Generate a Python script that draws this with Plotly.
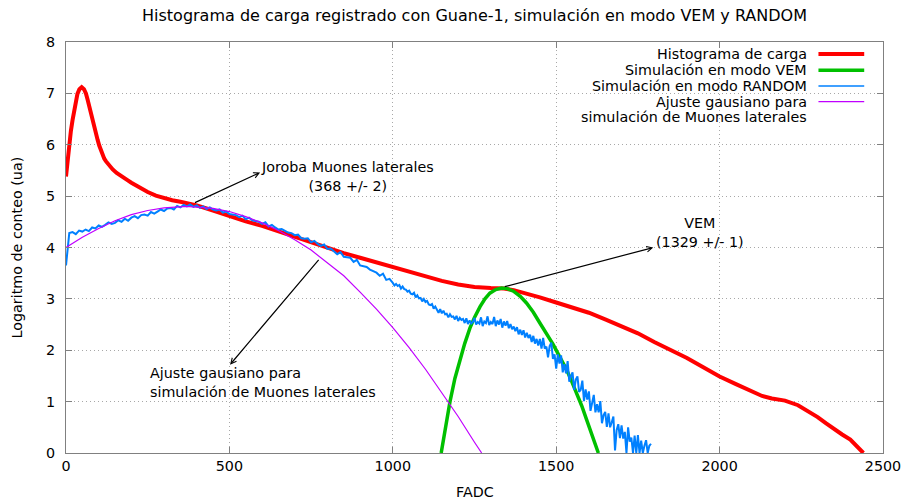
import plotly.graph_objects as go

# ---------------- data ----------------
# Histograma de carga (red)
red_x = [0, 5, 10, 15, 20, 25, 30, 35, 41, 48, 55, 61, 66, 71, 77, 82, 87, 92, 97, 102,
         107, 112, 117, 122, 132, 143, 155, 165, 175, 188, 200, 225, 250, 275, 300, 325,
         350, 375, 400, 450, 500, 550, 600, 650, 700, 750, 800, 850, 900, 950, 1000, 1050,
         1100, 1150, 1200, 1250, 1300, 1340, 1370, 1400, 1450, 1500, 1550, 1600, 1650,
         1700, 1750, 1800, 1850, 1900, 1950, 2000, 2050, 2100, 2130, 2160, 2200, 2240,
         2275, 2300, 2325, 2350, 2375, 2400, 2420, 2440]
red_y = [5.38, 5.72, 6.03, 6.27, 6.48, 6.68, 6.87, 6.99, 7.08, 7.12, 7.08, 7.00, 6.88, 6.74,
         6.58, 6.45, 6.32, 6.20, 6.09, 5.98, 5.89, 5.80, 5.73, 5.68, 5.60, 5.52, 5.45, 5.40,
         5.36, 5.31, 5.26, 5.16, 5.08, 5.01, 4.96, 4.92, 4.89, 4.86, 4.82, 4.72, 4.61, 4.51,
         4.42, 4.31, 4.21, 4.10, 3.98, 3.89, 3.80, 3.71, 3.62, 3.53, 3.43, 3.35, 3.28, 3.23,
         3.21, 3.20, 3.17, 3.12, 3.03, 2.93, 2.83, 2.73, 2.60, 2.47, 2.33, 2.16, 2.01, 1.85,
         1.67, 1.49, 1.34, 1.20, 1.11, 1.06, 1.02, 0.93, 0.80, 0.70, 0.58, 0.46, 0.36, 0.26,
         0.14, 0.00]

# Simulación en modo VEM (green)
green_x = [1148, 1160, 1175, 1190, 1206, 1220, 1236, 1250, 1267, 1282, 1297, 1315, 1333,
           1350, 1369, 1390, 1409, 1430, 1450, 1470, 1491, 1510, 1532, 1547, 1562, 1578,
           1593, 1610, 1629]
green_y = [0.00, 0.45, 1.00, 1.45, 1.82, 2.13, 2.43, 2.64, 2.85, 3.00, 3.11, 3.18, 3.21,
           3.20, 3.15, 3.05, 2.92, 2.74, 2.53, 2.33, 2.11, 1.88, 1.62, 1.40, 1.17, 0.92,
           0.65, 0.35, 0.00]

# Simulación en modo RANDOM (blue): every 10 FADC up to 990, every 5 FADC after
blue_x = list(range(0, 1000, 10)) + list(range(1000, 1795, 5))
blue_y = [
    3.65, 4.28, 4.30, 4.26, 4.33, 4.31, 4.35, 4.32, 4.39, 4.37,
    4.43, 4.40, 4.44, 4.49, 4.46, 4.48, 4.53, 4.50, 4.56, 4.52,
    4.58, 4.61, 4.57, 4.63, 4.64, 4.62, 4.69, 4.66, 4.70, 4.74,
    4.71, 4.76, 4.77, 4.74, 4.81, 4.78, 4.83, 4.80, 4.84, 4.79,
    4.82, 4.77, 4.80, 4.75, 4.78, 4.74, 4.72, 4.74, 4.68, 4.70,
    4.65, 4.64, 4.63, 4.59, 4.62, 4.55, 4.58, 4.53, 4.51, 4.50,
    4.46, 4.49, 4.41, 4.44, 4.39, 4.35, 4.36, 4.32, 4.29, 4.28,
    4.24, 4.25, 4.18, 4.17, 4.18, 4.10, 4.13, 4.07, 4.03, 4.06,
    3.97, 3.98, 3.93, 3.87, 3.91, 3.82, 3.81, 3.80, 3.72, 3.76,
    3.65, 3.64, 3.62, 3.57, 3.54, 3.51, 3.45, 3.49, 3.37, 3.39,
    # 1000 .. 1790 step 5
    3.31, 3.26, 3.29, 3.25, 3.27, 3.20, 3.24, 3.19, 3.18, 3.14,
    3.16, 3.10, 3.09, 3.12, 3.03, 3.07, 3.01, 3.02, 2.95, 3.00,
    2.94, 2.96, 2.89, 2.88, 2.90, 2.81, 2.85, 2.79, 2.73, 2.80,
    2.72, 2.77, 2.70, 2.71, 2.64, 2.70, 2.65, 2.66, 2.60, 2.67,
    2.57, 2.63, 2.59, 2.61, 2.53, 2.62, 2.51, 2.58, 2.52, 2.55,
    2.63, 2.50, 2.55, 2.52, 2.64, 2.47, 2.56, 2.53, 2.66, 2.49,
    2.55, 2.51, 2.65, 2.47, 2.58, 2.50, 2.61, 2.44, 2.56, 2.48,
    2.57, 2.43, 2.51, 2.41, 2.46, 2.37, 2.45, 2.31, 2.40, 2.30,
    2.39, 2.25, 2.34, 2.24, 2.30, 2.16, 2.28, 2.13, 2.22, 2.09,
    2.22, 2.03, 2.24, 2.03, 2.07, 1.86, 2.08, 2.15, 1.83, 1.92,
    1.64, 1.92, 1.74, 1.90, 1.57, 1.73, 1.55, 1.79, 1.39, 1.49,
    1.57, 1.23, 1.43, 1.49, 1.19, 1.23, 1.41, 1.01, 1.24, 1.04,
    1.20, 0.82, 1.02, 1.13, 0.79, 0.95, 0.79, 1.01, 0.58, 0.74,
    0.80, 0.51, 0.77, 0.50, 0.60, 0.71, 0.05, 0.45, 0.56, 0.29,
    0.54, 0.28, 0.41, 0.00, 0.50, 0.22, 0.30, 0.00, 0.34, 0.00,
    0.35, 0.00, 0.24, 0.00, 0.14, 0.25, 0.00, 0.14, 0.18,
]
assert len(blue_x) == len(blue_y)

# Ajuste gausiano (purple)
purple_x = [0, 50, 100, 150, 200, 250, 300, 368, 450, 500, 550, 600, 650, 700, 750, 800,
            850, 900, 950, 1000, 1050, 1100, 1150, 1200, 1250, 1272]
purple_y = [4.00, 4.20, 4.37, 4.52, 4.64, 4.72, 4.77, 4.80, 4.76, 4.70, 4.60, 4.48, 4.33,
            4.15, 3.95, 3.70, 3.45, 3.13, 2.80, 2.44, 2.05, 1.63, 1.18, 0.71, 0.21, 0.00]

legend_labels = ["Histograma de carga", "Simulación en modo VEM",
                 "Simulación en modo RANDOM", "Ajuste gausiano para",
                 "simulación de Muones laterales"]
series_colors = ["#ff0000", "#00c000", "#0080ff", "#c000ff"]
series_widths = [4, 3.5, 2, 1.2]

x_ticks = [0, 500, 1000, 1500, 2000, 2500]
y_ticks = [0, 1, 2, 3, 4, 5, 6, 7, 8]

FONT = "DejaVu Sans"
FS = 14.3

fig = go.Figure()
for xs, ys, c, w in [(red_x, red_y, series_colors[0], series_widths[0]),
                     (green_x, green_y, series_colors[1], series_widths[1]),
                     (blue_x, blue_y, series_colors[2], series_widths[2]),
                     (purple_x, purple_y, series_colors[3], series_widths[3])]:
    fig.add_trace(go.Scatter(x=xs, y=ys, mode="lines",
                             line=dict(color=c, width=w), showlegend=False,
                             hoverinfo="skip"))

# manual legend (text right-aligned, sample line on the right), paper coords
leg_rows = [0.971, 0.931, 0.893, 0.855, 0.817]
annotations = []
shapes = []
for i, txt in enumerate(legend_labels):
    annotations.append(dict(xref="paper", yref="paper", x=0.909, y=leg_rows[i],
                            text=txt, showarrow=False,
                            xanchor="right", yanchor="middle",
                            font=dict(family=FONT, size=FS, color="black")))
leg_widths = [4, 3.5, 1.5, 1.2]
for i in range(4):
    shapes.append(dict(type="line", xref="paper", yref="paper",
                       x0=0.921, x1=0.977, y0=leg_rows[i], y1=leg_rows[i],
                       line=dict(color=series_colors[i], width=leg_widths[i])))

# arrows (head, tail) in data coords
arrows = [((594, 5.46), (390, 4.86)),
          ((1797, 4.00), (1338, 3.23)),
          ((502, 1.72), (777, 3.79))]
for (hx, hy), (tx, ty) in arrows:
    annotations.append(dict(x=hx, y=hy, ax=tx, ay=ty, xref="x", yref="y",
                            axref="x", ayref="y", text="", showarrow=True,
                            arrowhead=5, arrowsize=0.9, arrowwidth=1.2,
                            arrowcolor="black", standoff=0, startstandoff=0))

# labels
annotations.append(dict(x=860, y=5.39, xref="x", yref="y",
                        text="Joroba Muones laterales<br>(368 +/- 2)",
                        showarrow=False, align="center", xanchor="center",
                        yanchor="middle", font=dict(family=FONT, size=FS, color="black")))
annotations.append(dict(x=1940, y=4.29, xref="x", yref="y",
                        text="VEM<br>(1329 +/- 1)",
                        showarrow=False, align="center", xanchor="center",
                        yanchor="middle", font=dict(family=FONT, size=FS, color="black")))
annotations.append(dict(x=251, y=1.38, xref="x", yref="y",
                        text="Ajuste gausiano para<br>simulación de Muones laterales",
                        showarrow=False, align="left", xanchor="left",
                        yanchor="middle", font=dict(family=FONT, size=FS, color="black")))

# axis titles
annotations.append(dict(xref="paper", yref="paper", x=0.5, y=-0.094,
                        text="FADC", showarrow=False, xanchor="center", yanchor="middle",
                        font=dict(family=FONT, size=FS, color="black")))
annotations.append(dict(xref="paper", yref="paper", x=-0.060, y=0.5,
                        text="Logaritmo de conteo (ua)", showarrow=False, textangle=-90,
                        xanchor="center", yanchor="middle",
                        font=dict(family=FONT, size=FS, color="black")))

axis_common = dict(showline=True, linecolor="#808080", linewidth=1, mirror="ticks",
                   ticks="inside", ticklen=6, tickcolor="#808080", automargin=False,
                   showgrid=True, gridcolor="#a8a8a8", griddash="1px,3px", gridwidth=1,
                   zeroline=False, tickfont=dict(family=FONT, size=FS, color="black"))

fig.update_layout(
    width=905, height=499,
    margin=dict(l=66, r=22, t=42, b=46),
    paper_bgcolor="white", plot_bgcolor="white",
    font=dict(family=FONT, size=FS, color="black"),
    title=dict(text="Histograma de carga registrado con Guane-1, simulación en modo VEM y RANDOM",
               x=0.5, xref="paper", y=1 - 15 / 499, yanchor="middle",
               font=dict(family=FONT, size=16, color="black")),
    xaxis=dict(range=[0, 2500], tickvals=x_ticks, **axis_common),
    yaxis=dict(range=[0, 8], tickvals=y_ticks, ticklabelstandoff=7, **axis_common),
    annotations=annotations, shapes=shapes,
    showlegend=False,
)

fig.write_html("out.html", config={"displayModeBar": False},
               post_script="document.body.style.margin='0';")
